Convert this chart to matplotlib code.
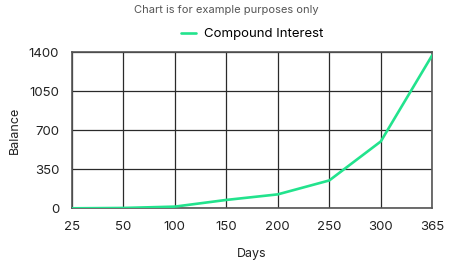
import matplotlib
matplotlib.use("Agg")
import matplotlib.pyplot as plt

days = ["25", "50", "100", "150", "200", "250", "300", "365"]
balance = [0, 3, 15, 75, 125, 250, 600, 1375]
y_ticks = [0, 350, 700, 1050, 1400]

plt.rcParams["font.family"] = ["Inter", "DejaVu Sans"]

fig = plt.figure(figsize=(4.53, 2.63), dpi=100)
ax = fig.add_axes([71.7 / 453, 1 - 208.3 / 263, (432.3 - 71.7) / 453, (208.3 - 52.3) / 263])

x = list(range(len(days)))
ax.plot(x, balance, color="#22e38d", linewidth=1.9, label="Compound Interest",
        solid_capstyle="round", zorder=3)

ax.set_xlim(0, len(days) - 1)
ax.set_ylim(0, 1400)
ax.set_xticks(x)
ax.set_xticklabels(days)
ax.set_yticks(y_ticks)
ax.grid(True, color="#2a2a2a", linewidth=0.9)
ax.set_axisbelow(True)
for s in ax.spines.values():
    s.set_color("#555555")
    s.set_linewidth(1.2)
ax.tick_params(length=0, labelsize=9.5, colors="#222222", pad=9)

ax.set_xlabel("Days", fontsize=9, color="#222222", labelpad=11)
ax.set_ylabel("Balance", fontsize=9, color="#222222", labelpad=6)

fig.text(0.5, 1 - 10 / 263, "Chart is for example purposes only", ha="center", va="center",
         fontsize=8, color="#555555")
ax.legend(loc="lower center", bbox_to_anchor=(0.5, 1.0), frameon=False, fontsize=9.5,
          handlelength=1.1, handletextpad=0.6, borderaxespad=0.5)

fig.savefig("out.png", dpi=100)
